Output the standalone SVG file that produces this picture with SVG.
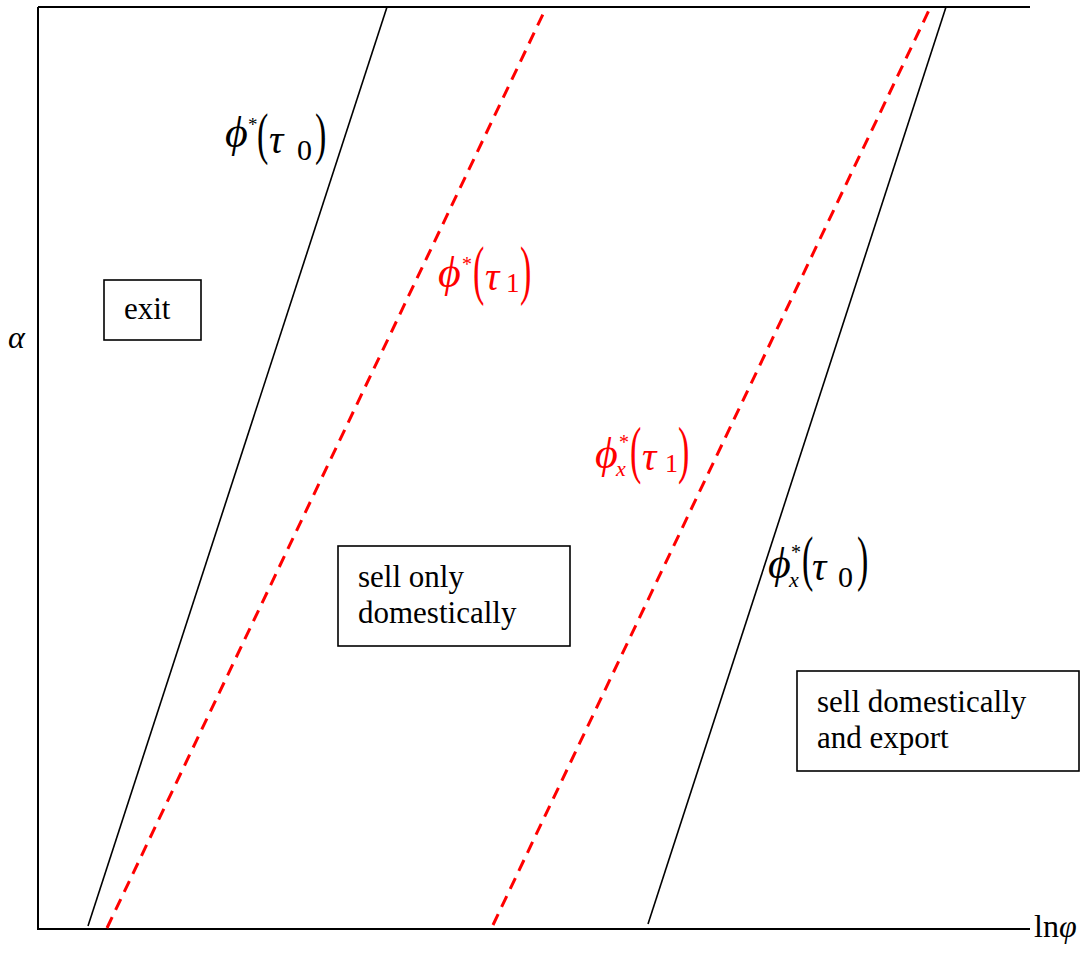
<svg xmlns="http://www.w3.org/2000/svg" width="1086" height="958" viewBox="0 0 1086 958">
<style>
.ax{stroke:#000;stroke-width:2;fill:none}
.bl{stroke:#000;stroke-width:1.6;fill:none}
.rd{stroke:#ff0000;stroke-width:3;fill:none;stroke-dasharray:12,8}
.box{fill:#fff;stroke:#000;stroke-width:1.6}
.t{font-family:"Liberation Serif","Times New Roman",serif;font-size:31px;fill:#000}
.m{font-family:"Liberation Serif","Times New Roman",serif;font-style:italic}
.n{font-family:"Liberation Serif","Times New Roman",serif}
.p{font-family:"Liberation Serif","Times New Roman",serif;font-size:40px}
.red{fill:#ff0000}
.blk{fill:#000}
</style>
<g id="axes">
<path class="ax" d="M38,7 H1030 M38,7 V929 H1030"/>
<text class="m blk" x="8" y="348" font-size="32">α</text>
<text class="n blk" x="1034" y="937" font-size="32">ln<tspan class="m">φ</tspan></text>
</g>
<g id="connectors">
<line class="bl" x1="88" y1="926" x2="387" y2="7"/>
<line class="rd" x1="107" y1="928" x2="545" y2="10"/>
<line class="rd" x1="493" y1="925" x2="931" y2="6"/>
<line class="bl" x1="648" y1="924" x2="946" y2="7"/>
</g>
<g id="label-phi-tau0" class="blk">
<text class="m" x="225" y="147" font-size="44">ϕ</text>
<text class="n" x="248" y="131" font-size="19">*</text>
<text class="p" transform="translate(257,153) scale(0.85,1.4)">(</text>
<text class="m" x="269" y="153" font-size="40">τ</text>
<text class="n" x="297" y="160" font-size="30">0</text>
<text class="p" transform="translate(315,153) scale(0.85,1.4)">)</text>
</g>
<g id="label-phi-tau1" class="red">
<text class="m" x="438" y="287" font-size="44">ϕ</text>
<text class="n" x="462" y="271" font-size="20">*</text>
<text class="p" transform="translate(473,292) scale(0.85,1.65)">(</text>
<text class="m" x="485" y="290" font-size="40">τ</text>
<text class="n" x="506" y="292" font-size="27">1</text>
<text class="p" transform="translate(520,292) scale(0.85,1.65)">)</text>
</g>
<g id="label-phix-tau1" class="red">
<text class="m" x="595" y="468" font-size="44">ϕ</text>
<text class="n" x="619" y="449" font-size="20">*</text>
<text class="m" x="616" y="476" font-size="22">x</text>
<text class="p" transform="translate(630,471) scale(0.85,1.57)">(</text>
<text class="m" x="642" y="470" font-size="40">τ</text>
<text class="n" x="665" y="472" font-size="26">1</text>
<text class="p" transform="translate(678,471) scale(0.85,1.57)">)</text>
</g>
<g id="label-phix-tau0" class="blk">
<text class="m" x="768" y="578" font-size="44">ϕ</text>
<text class="n" x="791" y="559" font-size="20">*</text>
<text class="m" x="789" y="587" font-size="22">x</text>
<text class="p" transform="translate(802,579) scale(0.85,1.55)">(</text>
<text class="m" x="812" y="580" font-size="40">τ</text>
<text class="n" x="838" y="587" font-size="30">0</text>
<text class="p" transform="translate(857,579) scale(0.85,1.55)">)</text>
</g>
<g id="node-exit">
<rect class="box" x="104" y="280" width="97" height="60"/>
<text class="t" x="124" y="319">exit</text>
</g>
<g id="node-domestic">
<rect class="box" x="338" y="546" width="232" height="100"/>
<text class="t" x="358" y="587">sell only</text>
<text class="t" x="358" y="623">domestically</text>
</g>
<g id="node-export">
<rect class="box" x="797" y="671" width="282" height="100"/>
<text class="t" x="817" y="712">sell domestically</text>
<text class="t" x="817" y="748">and export</text>
</g>
</svg>
